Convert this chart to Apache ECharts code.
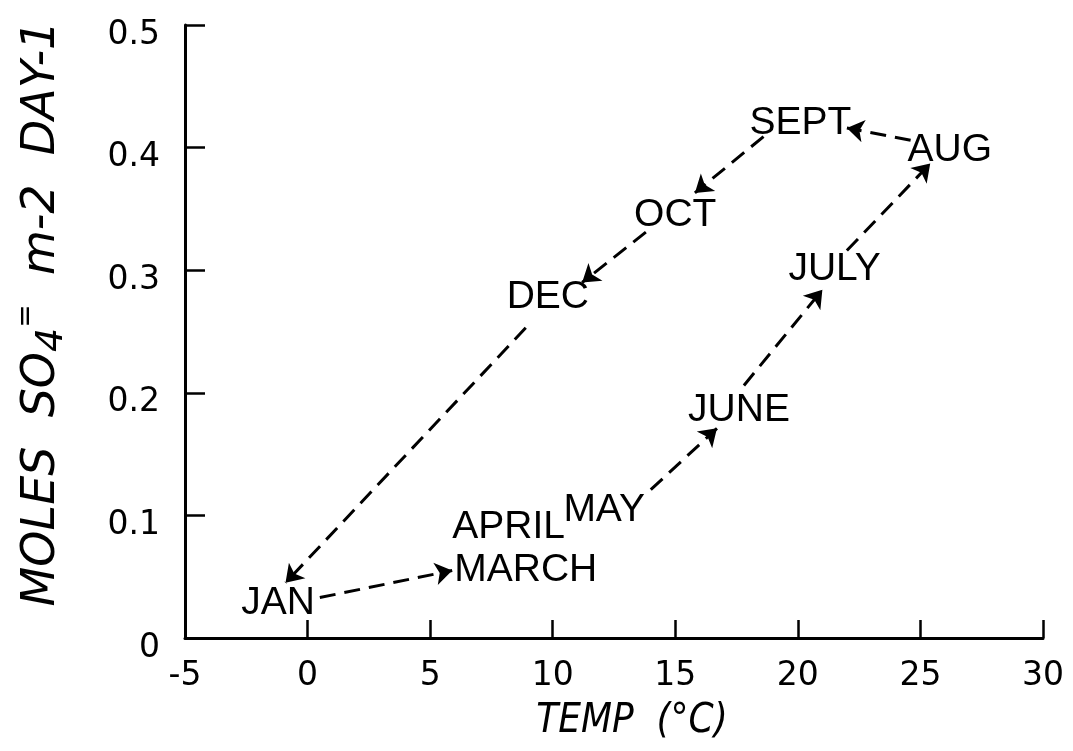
<!DOCTYPE html>
<html>
<head>
<meta charset="utf-8">
<script src="https://cdn.jsdelivr.net/npm/echarts@6/dist/echarts.min.js"></script>
<style>
  html, body { margin: 0; padding: 0; background: #fff; }
  #chart { width: 1073px; height: 751px; }
</style>
</head>
<body>
<div id="chart"></div>
<script>
// month label positions (temp in degC, moles SO4 m-2 day-1)
var months = ['JAN', 'MARCH', 'APRIL', 'MAY', 'JUNE', 'JULY', 'AUG', 'SEPT', 'OCT', 'DEC'];
var temps = [-1.2, 8.9, 8.2, 12.1, 17.6, 21.5, 26.2, 20.1, 15.0, 9.8];
var sulfate = [0.028, 0.055, 0.090, 0.104, 0.186, 0.301, 0.398, 0.420, 0.345, 0.278];

// dashed arrows: [fromTemp, fromSulfate, toTemp, toSulfate]
var arrows = [
  [0.5, 0.033, 5.9, 0.055],     // JAN -> MARCH
  [14.0, 0.121, 16.7, 0.171],   // MAY -> JUNE
  [17.8, 0.206, 21.0, 0.284],   // JUNE -> JULY
  [22.0, 0.316, 25.4, 0.387],   // JULY -> AUG
  [24.6, 0.406, 22.0, 0.416],   // AUG -> SEPT
  [18.6, 0.409, 15.8, 0.363],   // SEPT -> OCT
  [13.8, 0.331, 11.2, 0.290],   // OCT -> DEC
  [8.9, 0.253, -0.9, 0.045]     // DEC -> JAN
];

var xTicks = { min: -5, max: 30, interval: 5 };
var yTicks = { min: 0, max: 0.5, interval: 0.1 };

var chart = echarts.init(document.getElementById('chart'));

var yFont = "'DejaVu Sans', sans-serif";

chart.setOption({
  backgroundColor: '#fff',
  animation: false,
  grid: { left: 185, right: 30, top: 25, bottom: 113 },
  xAxis: {
    type: 'value',
    min: xTicks.min,
    max: xTicks.max,
    interval: xTicks.interval,
    name: 'TEMP  (°C)',
    nameLocation: 'middle',
    nameGap: 64,
    nameTextStyle: {
      fontFamily: "'DejaVu Sans Condensed', 'DejaVu Sans', sans-serif",
      fontStyle: 'italic',
      fontSize: 40,
      color: '#000',
      padding: [0, 0, 0, 36]
    },
    axisLine: { onZero: false, lineStyle: { color: '#000', width: 3 } },
    axisTick: { inside: true, length: 18, lineStyle: { color: '#000', width: 2.5 } },
    splitLine: { show: false },
    axisLabel: {
      color: '#000',
      fontFamily: 'DejaVu Sans',
      fontSize: 33,
      margin: 22
    }
  },
  yAxis: {
    type: 'value',
    min: yTicks.min,
    max: yTicks.max,
    interval: yTicks.interval,
    name: 'MOLES  SO{sub|4}{sup|=}  m-2  DAY-1',
    nameLocation: 'middle',
    nameGap: 114,
    nameTextStyle: {
      fontFamily: yFont,
      fontStyle: 'italic',
      fontSize: 46,
      color: '#000',
      padding: [0, 0, 0, 36],
      rich: {
        sub: {
          fontFamily: yFont, fontStyle: 'italic', fontSize: 38, color: '#000',
          verticalAlign: 'bottom', lineHeight: 58
        },
        sup: {
          fontFamily: yFont, fontStyle: 'italic', fontSize: 28, color: '#000',
          verticalAlign: 'top', lineHeight: 58
        }
      }
    },
    axisLine: { onZero: false, lineStyle: { color: '#000', width: 3 } },
    axisTick: { inside: true, length: 20, lineStyle: { color: '#000', width: 2.5 } },
    splitLine: { show: false },
    axisLabel: {
      color: '#000',
      fontFamily: 'DejaVu Sans',
      fontSize: 33,
      margin: 25,
      verticalAlign: 'top',
      lineHeight: 20,
      formatter: function (v) { return v === 0 ? '0' : v.toFixed(1); }
    }
  },
  series: [
    {
      type: 'lines',
      coordinateSystem: 'cartesian2d',
      symbol: ['none', 'arrow'],
      symbolSize: 17,
      lineStyle: { color: '#000', width: 3, type: [16, 9], opacity: 1 },
      data: arrows.map(function (a) {
        return { coords: [[a[0], a[1]], [a[2], a[3]]] };
      })
    },
    {
      type: 'scatter',
      symbolSize: 0,
      itemStyle: { color: '#000' },
      label: {
        show: true,
        position: 'inside',
        formatter: '{b}',
        color: '#000',
        opacity: 1,
        textBorderWidth: 0,
        fontFamily: "'Liberation Sans', Arial, sans-serif",
        fontSize: 39
      },
      data: months.map(function (m, i) {
        return { name: m, value: [temps[i], sulfate[i]] };
      })
    }
  ]
});
</script>
</body>
</html>
